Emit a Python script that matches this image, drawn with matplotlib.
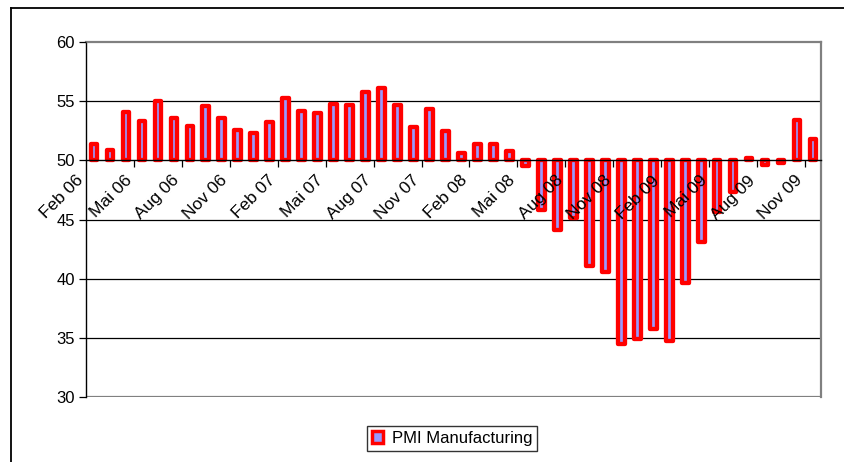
import matplotlib
matplotlib.use("Agg")
import matplotlib.pyplot as plt
import matplotlib.transforms as mtransforms
from matplotlib.lines import Line2D
from matplotlib.patches import Patch
import numpy as np

plt.rcParams['font.family'] = ['Liberation Sans', 'DejaVu Sans']

# monthly PMI, Feb 06 .. Nov 09
pmi = [51.4, 50.9, 54.1, 53.3, 55.0, 53.6, 52.9, 54.6, 53.6, 52.6, 52.3, 53.2,
       55.3, 54.2, 54.0, 54.8, 54.7, 55.75, 56.1, 54.7, 52.8, 54.3, 52.45, 50.65,
       51.35, 51.35, 50.8, 49.5, 45.8, 44.1, 45.1, 41.1, 40.6, 34.5, 34.9, 35.75,
       34.7, 39.6, 43.1, 45.6, 47.3, 50.2, 49.6, 49.8, 53.4, 51.8]
tick_labels = ["Feb 06", "Mai 06", "Aug 06", "Nov 06", "Feb 07", "Mai 07", "Aug 07", "Nov 07",
               "Feb 08", "Mai 08", "Aug 08", "Nov 08", "Feb 09", "Mai 09", "Aug 09", "Nov 09"]
baseline = 50

x = np.arange(len(pmi))
heights = np.array(pmi) - baseline

fig = plt.figure(figsize=(8.45, 4.62), dpi=100)
ax = fig.add_axes([86/845, 1-397/462, 735/845, 355/462])
ax.set_axisbelow(False)  # axis labels drawn over the bars, like Excel

# grid lines first so bars sit on top
for yv in [35, 40, 45, 55]:
    ax.axhline(yv, color='black', lw=0.9, zorder=0)

ax.bar(x, heights, bottom=baseline, width=0.42, color='#9999FF', edgecolor='#FF0000',
       linewidth=3.1, joinstyle='round', zorder=2)

ax.set_xlim(-0.5, len(pmi) - 0.5)
ax.set_ylim(30, 60)
ax.set_yticks([30, 35, 40, 45, 50, 55, 60])
ax.tick_params(axis='y', direction='out', length=5, width=0.9, labelsize=12, pad=3)

# category axis crosses at 50
ax.spines['bottom'].set_position(('data', baseline))
ax.spines['bottom'].set_linewidth(1.0)
ax.spines['left'].set_linewidth(1.0)
for s in ['top', 'right']:
    ax.spines[s].set_color('#808080')
    ax.spines[s].set_linewidth(1.6)
ax.axhline(30, color='#808080', lw=1.6, zorder=1)

ax.set_xticks(x[::3])
ax.set_xticklabels(tick_labels, rotation=45, ha='right', va='top',
                   rotation_mode='anchor', fontsize=12.5)
ax.set_xticks(np.arange(2.5, len(pmi), 3), minor=True)
ax.tick_params(axis='x', which='major', length=0, pad=9)
ax.tick_params(axis='x', which='minor', length=5, width=0.9, direction='out')
offset = mtransforms.ScaledTranslation(-18/100, 0, fig.dpi_scale_trans)
for lbl in ax.get_xticklabels():
    lbl.set_transform(lbl.get_transform() + offset)

handle = Patch(facecolor='#9999FF', edgecolor='#FF0000', linewidth=2.5)
leg = fig.legend([handle], ['PMI Manufacturing'], loc='center',
                 bbox_to_anchor=(452/845, 1-438/462), fontsize=12,
                 frameon=True, fancybox=False, handlelength=0.7, handleheight=0.7,
                 handletextpad=0.5, borderpad=0.3)
leg.get_frame().set_edgecolor('black')
leg.get_frame().set_linewidth(1.0)

# outer chart frame (top and left edges visible)
fig.add_artist(Line2D([11/845, 11/845], [0, 1-8/462], color='black', lw=1.3,
                      transform=fig.transFigure))
fig.add_artist(Line2D([11/845, 1], [1-8/462, 1-8/462], color='black', lw=1.3,
                      transform=fig.transFigure))

fig.savefig("out.png", dpi=100)
